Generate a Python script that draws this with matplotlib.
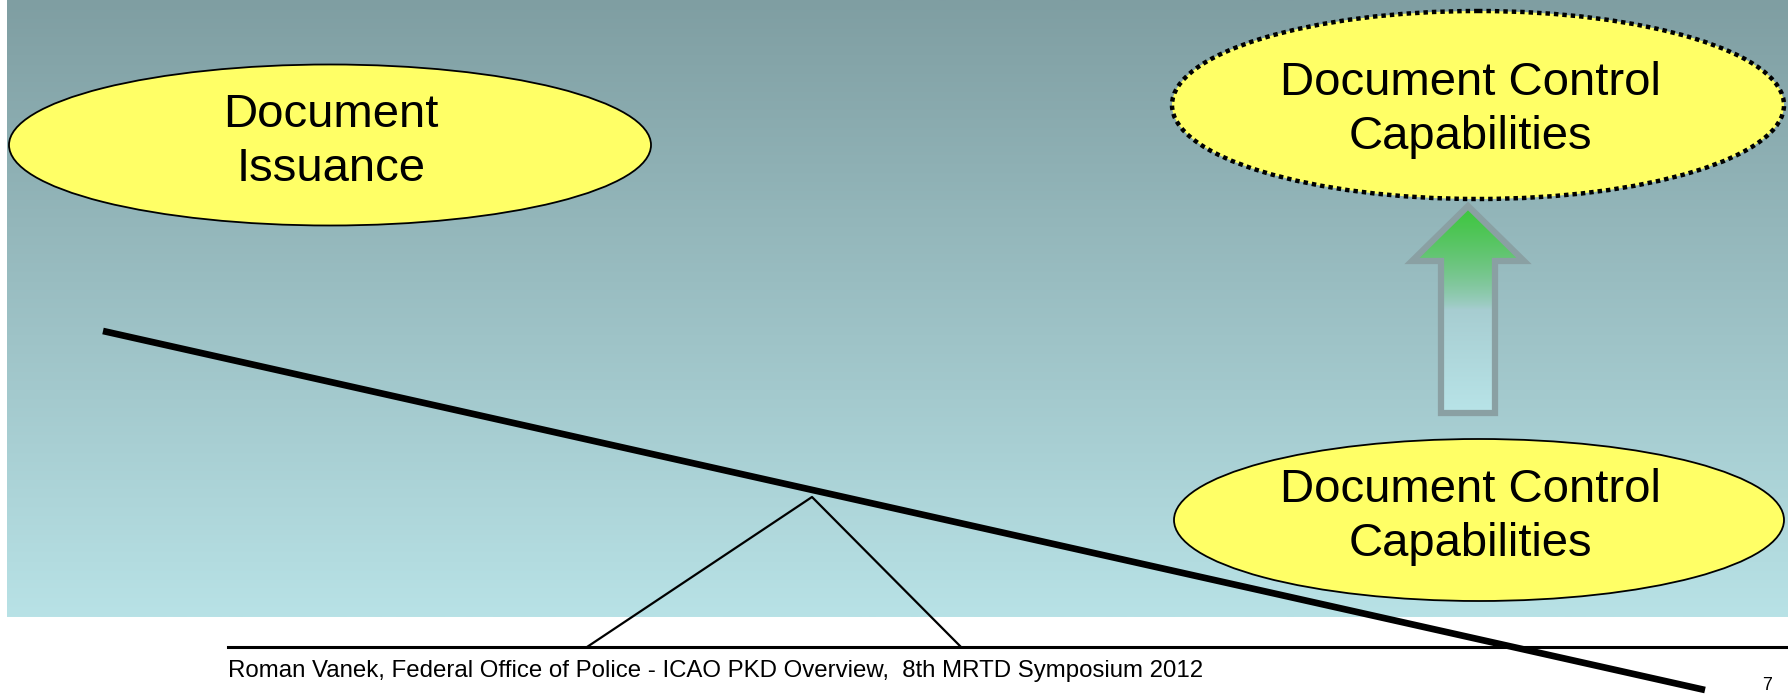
import numpy as np
import matplotlib
matplotlib.use("Agg")
import matplotlib.pyplot as plt
from matplotlib.patches import Ellipse, Polygon

plt.rcParams['font.family'] = ['Liberation Sans', 'DejaVu Sans']

# labels of the three bubbles
bubble_labels = ["Document\nIssuance",
                 "Document Control\nCapabilities",
                 "Document Control\nCapabilities"]
bubble_centers = [(330, 145), (1478, 105), (1479, 520)]
bubble_sizes = [(642, 161), (612, 188), (610, 162)]
bubble_dotted = [False, True, False]
text_pos = [(331, 142), (1470, 110), (1470, 517)]

footer = "Roman Vanek, Federal Office of Police - ICAO PKD Overview,  8th MRTD Symposium 2012"
page_no = "7"

# seesaw geometry
beam = [(103, 331), (1705, 690)]
fulcrum = [(587, 647), (812, 497), (961, 647)]
rule = [(228, 647), (1788, 647)]

# arrow outline
arrow = [(1441, 413), (1441, 261), (1412, 261), (1468, 206),
         (1524, 261), (1495, 261), (1495, 413)]

W, H = 1788, 695
fig = plt.figure(figsize=(W / 100, H / 100), dpi=100)
ax = fig.add_axes([0, 0, 1, 1])
ax.set_xlim(0, W)
ax.set_ylim(H, 0)
ax.axis('off')

# background gradient
top = np.array([127, 158, 162]) / 255
bot = np.array([184, 226, 230]) / 255
t = np.linspace(0, 1, 256)[:, None, None]
grad = top * (1 - t) + bot * t
ax.imshow(grad, extent=[7, W, 617, 0], aspect='auto', zorder=0)

# bubbles
for lab, c, s, dot, tp in zip(bubble_labels, bubble_centers, bubble_sizes,
                              bubble_dotted, text_pos):
    if dot:
        e = Ellipse(c, s[0], s[1], facecolor='#ffff66', edgecolor='black',
                    lw=3.2, linestyle=(0, (1, 0.9)), zorder=3)
    else:
        e = Ellipse(c, s[0], s[1], facecolor='#ffff66', edgecolor='black',
                    lw=1.3, zorder=3)
    ax.add_patch(e)
    ax.text(tp[0], tp[1], lab, ha='center', va='center', fontsize=34,
            linespacing=1.28, zorder=4)

# arrow with green fade
poly = Polygon(arrow, closed=True, facecolor='none', edgecolor='#8aa0a3',
               lw=4.5, joinstyle='miter', zorder=3)
ax.add_patch(poly)
y0, y1 = 206, 413
tt = np.linspace(0, 1, 256)[:, None, None]
base = np.array([150, 182, 186]) / 255 * (1 - tt) + np.array([184, 228, 232]) / 255 * tt
green = np.array([60, 200, 60]) / 255
a = np.clip(1 - tt / 0.5, 0, 1) ** 0.8
img = green * a + base * (1 - a)
im = ax.imshow(img, extent=[1412, 1524, y1, y0], aspect='auto', zorder=2)
im.set_clip_path(Polygon(arrow, closed=True, transform=ax.transData))

# seesaw
ax.plot(*zip(*fulcrum), color='black', lw=1.6, zorder=5)
ax.plot(*zip(*rule), color='black', lw=2.2, zorder=5)
ax.plot(*zip(*beam), color='black', lw=4.8, solid_capstyle='butt', zorder=6)

ax.text(228, 671, footer, ha='left', va='center', fontsize=17.3, zorder=7)
ax.text(1762, 694, page_no, ha='left', va='bottom', fontsize=13, zorder=7)

fig.savefig("out.png", dpi=100, facecolor='white')
